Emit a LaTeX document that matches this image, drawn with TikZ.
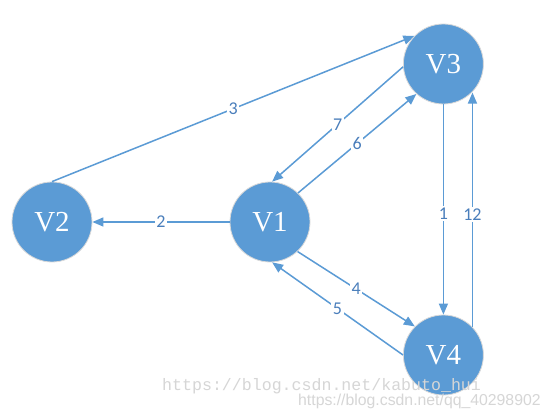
\documentclass[tikz,border=0pt]{standalone}
\usepackage{fontspec}
\setmainfont{Liberation Serif}
\newfontfamily\lblfont{Carlito}
\newfontfamily\wmonofont{Liberation Mono}
\newfontfamily\wsansfont{Liberation Sans}
\usetikzlibrary{arrows.meta}
\definecolor{nodeblue}{HTML}{5B9BD5}
\definecolor{lineblue}{HTML}{5B9BD5}
\definecolor{lbltext}{HTML}{4A7EBB}
\tikzset{
  vert/.style={circle, fill=nodeblue, draw=gray!30, line width=0.8pt, minimum size=80pt, inner sep=0pt,
    text=white, font=\fontsize{29}{30}\selectfont},
  arr/.style={draw=lineblue, line width=1.5pt, -{Triangle[length=11pt,width=9pt]}, lineblue},
  elbl/.style={fill=white, inner sep=1.5pt, text=lbltext, font=\lblfont\fontsize{18}{18}\selectfont},
  wm/.style={text=gray!32, inner sep=0pt, anchor=base west}
}
\begin{document}
\begin{tikzpicture}[x=1pt,y=-1pt]
\useasboundingbox[fill=white] (0,0) rectangle (550,419);
\node[vert] (V2) at (52,222) {V2};
\node[vert] (V1) at (270,222) {V1};
\node[vert] (V3) at (443.4,64) {V3};
\node[vert] (V4) at (443.4,355) {V4};

\draw[arr] (V2.90) -- node[elbl] {3} (V3.136);
\draw[arr] (V1.180) -- node[elbl] {2} (V2.0);
\draw[arr] (V3.184) -- node[elbl] {7} (V1.87);
\draw[arr] (V1.46) -- node[elbl] {6} (V3.228);
\draw[arr] (V1.313) -- node[elbl] {4} (V4.135);
\draw[arr] (V4.180) -- node[elbl] {5} (V1.273);
\draw[arr] (V3.270) -- node[elbl, pos=0.52] {1} (V4.90);
\coordinate (t12) at (V4.44 |- V3.315);
\draw[arr] (V4.44) -- node[elbl, pos=0.48] {12} (t12);

\node[wm, font=\wmonofont\fontsize{16.6}{17}\selectfont] (w1) at (162,391) {https://blog.csdn.net/kabuto\_hui};
\node[wm, font=\wsansfont\fontsize{15.8}{16}\selectfont] (w2) at (298,405.5) {https://blog.csdn.net/qq\_40298902};
\end{tikzpicture}
\end{document}
